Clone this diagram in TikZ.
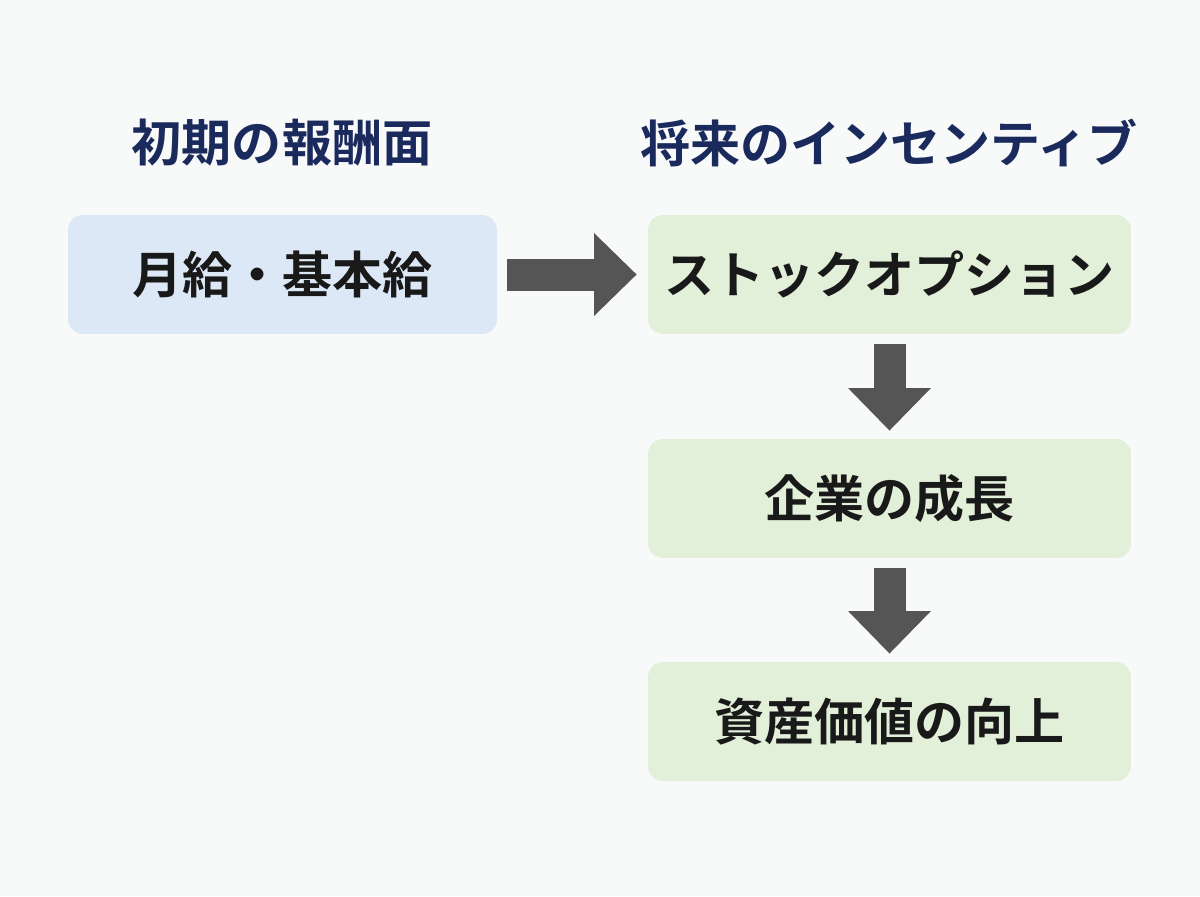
\documentclass[tikz,border=0pt]{standalone}
\usepackage{fontspec}
\newfontfamily\jpfont{Noto Sans CJK JP}[BoldFont={* Bold}]
\usetikzlibrary{arrows.meta}
\definecolor{bgcol}{HTML}{F8F9F9}
\definecolor{bluebox}{HTML}{DCE8F5}
\definecolor{greenbox}{HTML}{E2EFD9}
\definecolor{navy}{HTML}{1B2A5C}
\definecolor{arrowgray}{HTML}{555555}
\tikzset{
  box/.style={rounded corners=0.3cm, draw=none, minimum height=2.38cm,
    font=\jpfont\bfseries\fontsize{28.5}{34}\selectfont, text=black!90},
  leftbox/.style={box, fill=bluebox, minimum width=8.58cm},
  rightbox/.style={box, fill=greenbox, minimum width=9.66cm},
  heading/.style={font=\jpfont\bfseries\fontsize{28.5}{34}\selectfont, text=navy},
  flow/.style={draw=arrowgray, line width=0.64cm,
    -{Triangle[length=0.85cm, width=1.6cm]}}
}
\begin{document}
\begin{tikzpicture}[x=0.02cm, y=-0.02cm]
  \fill[bgcol] (0,0) rectangle (1200,896);
  \useasboundingbox (0,0) rectangle (1200,896);
  % headings
  \node[heading] (hleft) at (282,143) {初期の報酬面};
  \node[heading] (hright) at (889,143) {将来のインセンティブ};
  % boxes
  \node[leftbox] (salary) at (282.5,274.5) {月給・基本給};
  \node[rightbox] (option) at (889.5,274.5) {ストックオプション};
  \node[rightbox] (growth) at (889.5,498.5) {企業の成長};
  \node[rightbox] (asset) at (889.5,721.5) {資産価値の向上};
  % arrows
  \draw[flow, shorten <=0.2cm, shorten >=0.22cm] (salary.east) -- (option.west);
  \draw[flow, shorten <=0.2cm, shorten >=0.16cm] (option.south) -- (growth.north);
  \draw[flow, shorten <=0.2cm, shorten >=0.16cm] (growth.south) -- (asset.north);
\end{tikzpicture}
\end{document}
